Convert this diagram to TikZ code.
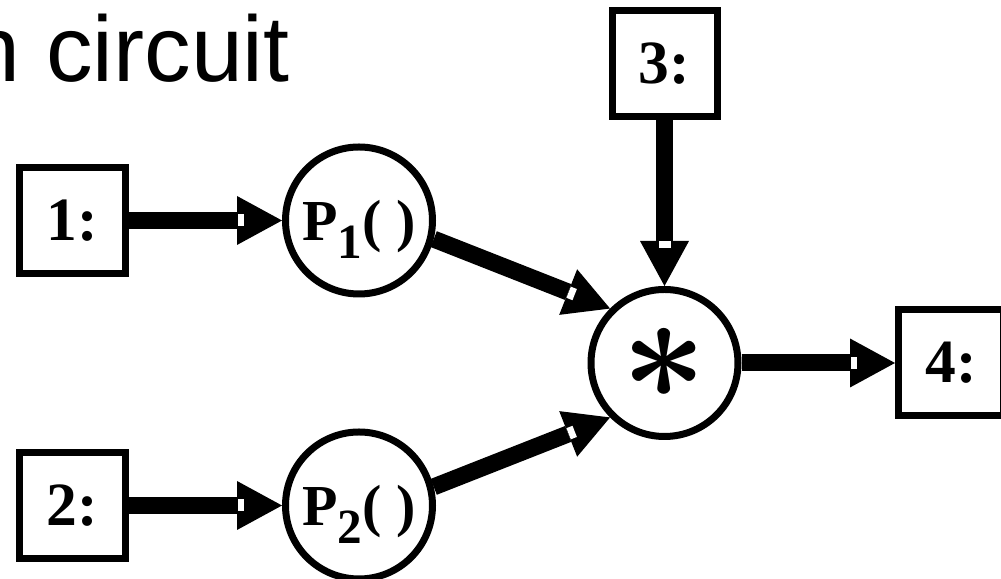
\documentclass[tikz,border=0pt]{standalone}
\usepackage{fontspec}
\setmainfont{Liberation Serif}
\newfontfamily\slidefont{Liberation Sans}
\usepackage{tikz}
\usetikzlibrary{arrows.meta,decorations.markings}
\tikzset{%
	port/.style  = {draw, rectangle, line width=0.14cm, minimum width=2.1cm, minimum height=2.12cm, inner sep=0pt, font=\fontsize{35}{40}\selectfont\bfseries},
	op/.style    = {draw, circle, line width=0.14cm, minimum size=2.94cm, inner sep=0pt, text depth=0pt, font=\fontsize{33}{36}\selectfont\bfseries},
	wire/.style  = {line width=0.34cm, -{Triangle[length=0.9cm,width=0.98cm,line width=0pt]},
	                postaction={decorate}, decoration={markings, mark=at position 1 with {\fill[white] (-0.89,-0.12) rectangle (-0.76,0.12);}}},
}
% subscripted process name inside a circle
\newcommand{\procname}[1]{P\raisebox{-0.31em}{\fontsize{28}{28}\selectfont #1}( )}

\begin{document}
\begin{tikzpicture}
			\useasboundingbox (0,0) rectangle (20.02,11.58);
			\node[anchor=base east, inner sep=0pt, font=\slidefont\fontsize{53}{60}\selectfont] (title) at (5.80,9.94) {n circuit};
			\node[port] (in1) at (1.45,7.17) {1:};
			\node[port] (in2) at (1.45,1.47) {2:};
			\node[port] (in3) at (13.29,10.31) {3:};
			\node[port] (out4) at (19.02,4.32) {4:};
			\node[op] (p1) at (7.18,7.17) {\procname{1}};
			\node[op] (p2) at (7.18,1.47) {\procname{2}};
			\node[op] (mul) at (13.29,4.32) {\scalebox{3.4}{\boldmath$\ast$}};
			\draw[wire] (in1) -- (p1);
			\draw[wire] (in2) -- (p2);
			\draw[wire] (p1.-14) -- (mul.135);
			\draw[wire] (p2.14) -- (mul.225);
			\draw[wire] (in3) -- (mul);
			\draw[wire] (mul) -- (out4);
\end{tikzpicture}
\end{document}
